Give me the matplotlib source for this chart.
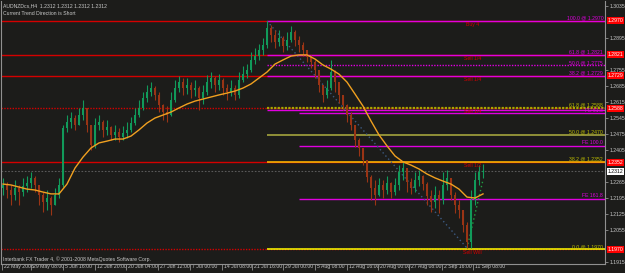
import numpy as np
import matplotlib
matplotlib.use("Agg")
import matplotlib.pyplot as plt
import matplotlib.transforms as mtrans
from matplotlib.transforms import blended_transform_factory

# ---------------- data ----------------
first_open = 1.2240
closes = [1.2252, 1.2230, 1.2208, 1.2239, 1.2221, 1.2248, 1.2261, 1.2283, 1.2252, 1.2208,
          1.2178, 1.2195, 1.2164, 1.2208, 1.2252, 1.2501, 1.2527, 1.2545, 1.2514, 1.2558,
          1.2589, 1.2514, 1.2427, 1.2514, 1.2527, 1.2493, 1.2506, 1.2471, 1.2484, 1.2462,
          1.2479, 1.2493, 1.2523, 1.2558, 1.2589, 1.2632, 1.2659, 1.2676, 1.2646, 1.2602,
          1.2571, 1.2558, 1.2624, 1.2676, 1.2702, 1.2676, 1.2689, 1.2667, 1.2676, 1.2632,
          1.2659, 1.2702, 1.2720, 1.2689, 1.2711, 1.2676, 1.2659, 1.2676, 1.2646, 1.2711,
          1.2737, 1.2755, 1.2799, 1.2816, 1.2842, 1.2864, 1.2939, 1.2908, 1.2878, 1.2895,
          1.2860, 1.2886, 1.2921, 1.2886, 1.2864, 1.2842, 1.2812, 1.2790, 1.2755, 1.2689,
          1.2646, 1.2676, 1.2746, 1.2702, 1.2646, 1.2602, 1.2558, 1.2514, 1.2449, 1.2414,
          1.2361, 1.2287, 1.2239, 1.2208, 1.2252, 1.2230, 1.2261, 1.2221, 1.2252, 1.2309,
          1.2326, 1.2265, 1.2239, 1.2274, 1.2291, 1.2256, 1.2204, 1.2178, 1.2208, 1.2186,
          1.2252, 1.2283, 1.2208, 1.2164, 1.2143, 1.2077, 1.2003, 1.2186, 1.2274, 1.2309,
          1.2313]
highs = [1.2283, 1.2265, 1.2252, 1.2274, 1.2252, 1.2283, 1.2291, 1.2309, 1.2291, 1.2239,
         1.2221, 1.2230, 1.2204, 1.2239, 1.2283, 1.2514, 1.2558, 1.2571, 1.2558, 1.2589,
         1.2624, 1.2580, 1.2514, 1.2545, 1.2558, 1.2536, 1.2536, 1.2510, 1.2514, 1.2501,
         1.2510, 1.2527, 1.2549, 1.2589, 1.2624, 1.2659, 1.2689, 1.2702, 1.2685, 1.2659,
         1.2606, 1.2597, 1.2659, 1.2711, 1.2729, 1.2720, 1.2720, 1.2702, 1.2711, 1.2685,
         1.2689, 1.2733, 1.2746, 1.2729, 1.2737, 1.2720, 1.2694, 1.2711, 1.2689, 1.2746,
         1.2772, 1.2781, 1.2834, 1.2851, 1.2869, 1.2895, 1.2969, 1.2952, 1.2930, 1.2930,
         1.2904, 1.2921, 1.2947, 1.2930, 1.2904, 1.2878, 1.2842, 1.2821, 1.2799, 1.2746,
         1.2689, 1.2711, 1.2799, 1.2755, 1.2685, 1.2646, 1.2606, 1.2571, 1.2510, 1.2458,
         1.2414, 1.2361, 1.2296, 1.2274, 1.2283, 1.2274, 1.2291, 1.2265, 1.2283, 1.2339,
         1.2353, 1.2326, 1.2283, 1.2309, 1.2318, 1.2296, 1.2265, 1.2230, 1.2248, 1.2230,
         1.2309, 1.2318, 1.2283, 1.2221, 1.2186, 1.2143, 1.2090, 1.2230, 1.2309, 1.2339,
         1.2344]
lows = [1.2208, 1.2195, 1.2164, 1.2186, 1.2164, 1.2204, 1.2221, 1.2239, 1.2221, 1.2164,
        1.2134, 1.2143, 1.2121, 1.2164, 1.2195, 1.2243, 1.2484, 1.2501, 1.2493, 1.2514,
        1.2536, 1.2484, 1.2405, 1.2414, 1.2493, 1.2462, 1.2471, 1.2449, 1.2449, 1.2440,
        1.2449, 1.2458, 1.2484, 1.2514, 1.2549, 1.2580, 1.2615, 1.2641, 1.2624, 1.2571,
        1.2536, 1.2527, 1.2554, 1.2615, 1.2659, 1.2646, 1.2650, 1.2632, 1.2641, 1.2580,
        1.2606, 1.2646, 1.2676, 1.2659, 1.2667, 1.2646, 1.2624, 1.2641, 1.2624, 1.2632,
        1.2702, 1.2720, 1.2746, 1.2781, 1.2799, 1.2821, 1.2851, 1.2878, 1.2851, 1.2860,
        1.2834, 1.2842, 1.2878, 1.2860, 1.2834, 1.2816, 1.2790, 1.2764, 1.2720, 1.2659,
        1.2615, 1.2632, 1.2667, 1.2659, 1.2611, 1.2580, 1.2527, 1.2493, 1.2418, 1.2379,
        1.2339, 1.2265, 1.2186, 1.2164, 1.2204, 1.2195, 1.2213, 1.2195, 1.2208, 1.2230,
        1.2274, 1.2221, 1.2213, 1.2221, 1.2248, 1.2230, 1.2164, 1.2134, 1.2151, 1.2129,
        1.2169, 1.2230, 1.2186, 1.2129, 1.2108, 1.2046, 1.1976, 1.1976, 1.2164, 1.2252,
        1.2283]
# moving average, read every second bar
ma_values = [1.2256, 1.2252, 1.2243, 1.2234, 1.2230, 1.2221, 1.2213, 1.2213, 1.2256, 1.2326,
             1.2374, 1.2414, 1.2436, 1.2444, 1.2453, 1.2453, 1.2466, 1.2493, 1.2523, 1.2545,
             1.2558, 1.2571, 1.2589, 1.2606, 1.2619, 1.2628, 1.2637, 1.2646, 1.2654, 1.2663,
             1.2676, 1.2694, 1.2720, 1.2746, 1.2781, 1.2799, 1.2816, 1.2821, 1.2821, 1.2803,
             1.2777, 1.2759, 1.2737, 1.2702, 1.2650, 1.2597, 1.2532, 1.2471, 1.2423, 1.2379,
             1.2353, 1.2339, 1.2322, 1.2300, 1.2283, 1.2269, 1.2256, 1.2234, 1.2199, 1.2195,
             1.2213]

current_price = 1.2312
peak_bar = 66
trough_bar = 116

# magenta retracement (0 -> 1.2580, 100 -> 1.2970)
mag_levels = [1.2970, 1.2821, 1.2775, 1.2729, 1.2580]
mag_labels = ["100.0 @ 1.2970", "61.8 @ 1.2821", "50.0 @ 1.2775", "38.2 @ 1.2729", ""]
mag_styles = ['-', '-', ':', '-', '-']
# yellow retracement (0 -> 1.1970, 100 -> 1.2970)
yel_levels = [1.2588, 1.2470, 1.2352, 1.1970]
yel_labels = ["61.8 @ 1.2588", "50.0 @ 1.2470", "38.2 @ 1.2352", "0.0 @ 1.1970"]
yel_colors = ['#a8a800', '#b0b040', '#ffc000', '#ffff00']
# expansion levels
fe_levels = [1.2567, 1.2423, 1.2191]
fe_labels = ["FE 61.8", "FE 100.0", "FE 161.8"]
fe_start = 74
# red zone lines
red_levels = [1.2970, 1.2821, 1.2729, 1.2588, 1.2352, 1.1970]
red_styles = ['-', '-', '-', ':', '-', ':']
zone_texts = ["Buy 4", "Sell 1/4", "Sell 1/4", "Sell 1/4", "Sell 1/2", "Sell Will"]
box_prices = [1.2970, 1.2821, 1.2729, 1.2588, 1.2352, 1.1970]

price_ticks = [1.1915, 1.2055, 1.2125, 1.2195, 1.2265, 1.2405, 1.2475,
               1.2545, 1.2615, 1.2685, 1.2755, 1.2895, 1.3035]
date_labels = ["22 May 2008", "29 May 08:00", "5 Jun 16:00", "12 Jun 20:00", "20 Jun 04:00",
               "27 Jun 12:00", "7 Jul 00:00", "14 Jul 08:00", "21 Jul 16:00", "29 Jul 00:00",
               "5 Aug 08:00", "12 Aug 16:00", "20 Aug 00:00", "27 Aug 08:00", "2 Sep 16:00",
               "11 Sep 08:00"]
date_bars = [-0.25, 7, 15, 23, 30.75, 38.75, 46.75, 54.75, 62.25, 70, 78, 86, 93.75,
             101.5, 109.75, 117.5]

# ---------------- style ----------------
BG = '#1c1c1a'
BULL = '#119a5a'
BEAR = '#9a3415'
MAG = '#e000e0'
RED = '#d40000'
FG = '#c8c8c8'
FONT = ['Liberation Sans', 'DejaVu Sans']
FS = 3.7

fig = plt.figure(figsize=(6.25, 2.73), dpi=100, facecolor=BG)
ax = fig.add_axes([1 / 625, 9 / 273, 604 / 625, 263 / 273])
ax.set_facecolor(BG)

closes = np.array(closes)
highs = np.array(highs)
lows = np.array(lows)
n = len(closes)
idx = np.arange(n)
opens = np.r_[first_open, closes[:-1]]
up = closes >= opens
cols = np.where(up, BULL, BEAR)

x_lo, x_hi = -0.5, 150.5
y_lo, y_hi = 1.19063, 1.30569
ax.set_xlim(x_lo, x_hi)
ax.set_ylim(y_lo, y_hi)

for lv, ls in zip(red_levels, red_styles):
    ax.hlines(lv, x_lo, x_hi, colors=RED, lw=1.0,
              linestyles='-' if ls == '-' else (0, (1, 1)), zorder=1)

ax.hlines(current_price, x_lo, x_hi, colors='#5a5a5a', lw=0.8, linestyles=(0, (1.5, 1.5)), zorder=1)

for k, (lv, c) in enumerate(zip(yel_levels, yel_colors)):
    if k == 0:
        ax.hlines(lv, peak_bar, x_hi, colors=c, lw=1.6, linestyles=(0, (1, 0.6)), zorder=2)
    else:
        ax.hlines(lv, peak_bar, x_hi, colors=c, lw=1.1, zorder=2)

for lv, ls in zip(mag_levels, mag_styles):
    ax.hlines(lv, peak_bar, x_hi, colors=MAG, lw=1.0,
              linestyles='-' if ls == '-' else (0, (1, 1)), zorder=2)
for lv in fe_levels:
    ax.hlines(lv, fe_start, x_hi, colors=MAG, lw=1.0, zorder=2)

ax.plot([peak_bar, trough_bar], [highs[peak_bar], lows[trough_bar]], color='#3c5a82',
        lw=1.0, ls=(0, (1, 2)), zorder=3)
ax.plot([trough_bar, n - 1], [lows[trough_bar], closes[n - 3]], color='#20a040',
        lw=1.0, ls=(0, (1, 2)), zorder=3)

ax.vlines(idx, lows, highs, colors=cols, lw=0.8, zorder=4)
body = np.maximum(np.abs(closes - opens), 0.0002)
ax.bar(idx, body, bottom=np.minimum(opens, closes), width=0.55, color=cols, lw=0, zorder=4)

ax.plot(idx[::2], ma_values, color='#f0a020', lw=1.0, zorder=5)

tr_lab = blended_transform_factory(ax.transAxes, ax.transData)
for lv, lab in zip(mag_levels, mag_labels):
    if lab:
        ax.text(0.997, lv + 0.0002, lab, transform=tr_lab, ha='right', va='bottom',
                color=MAG, fontsize=FS, family=FONT, zorder=6)
for lv, lab in zip(yel_levels, yel_labels):
    ax.text(0.997, lv + 0.0002, lab, transform=tr_lab, ha='right', va='bottom',
            color='#c0c000', fontsize=FS, family=FONT, zorder=6)
for lv, lab in zip(fe_levels, fe_labels):
    ax.text(0.997, lv + 0.0002, lab, transform=tr_lab, ha='right', va='bottom',
            color=MAG, fontsize=FS, family=FONT, zorder=6)
for lv, lab in zip(red_levels, zone_texts):
    ax.text(117.3, lv - 0.0003, lab, ha='center', va='top', color=RED,
            fontsize=FS, family=FONT, zorder=6)

ax.spines['top'].set_visible(False)
for s in ['right', 'bottom', 'left']:
    ax.spines[s].set_color('#909090')
    ax.spines[s].set_linewidth(0.8)
ax.yaxis.tick_right()
ax.set_yticks(price_ticks)
ax.set_yticklabels([f"{t:.4f}" for t in price_ticks], fontsize=FS, family=FONT, color=FG)
ax.tick_params(axis='y', direction='out', length=2.5, width=0.6, color='#909090', pad=1.2)
ax.set_xticks(date_bars)
ax.set_xticklabels(date_labels, fontsize=FS, family=FONT, color=FG, ha='left')
ax.tick_params(axis='x', direction='out', length=4, width=0.6, color='#909090', pad=-4.2)
offset = mtrans.ScaledTranslation(2 / 100, 0, fig.dpi_scale_trans)
for lbl in ax.get_xticklabels():
    lbl.set_transform(lbl.get_transform() + offset)

tr_box = blended_transform_factory(ax.transAxes, ax.transData)
for p in box_prices:
    ax.text(1.0045, p, f"{p:.4f}", transform=tr_box, ha='left', va='center', color='white',
            fontsize=FS, family=FONT, clip_on=False, zorder=10,
            bbox=dict(boxstyle='square,pad=0.2', fc='#ff0000', ec='none'))
ax.text(1.0045, current_price, f"{current_price:.4f}", transform=tr_box, ha='left', va='center',
        color='black', fontsize=FS, family=FONT, clip_on=False, zorder=10,
        bbox=dict(boxstyle='square,pad=0.2', fc='white', ec='none'))

ax.text(0.004, 0.992, f"AUDNZDcs,H4  {current_price:.4f} {current_price:.4f} {current_price:.4f} {current_price:.4f}",
        transform=ax.transAxes, ha='left', va='top', color=FG, fontsize=FS, family=FONT)
ax.text(0.004, 0.962, "Current Trend Direction is Short", transform=ax.transAxes, ha='left',
        va='top', color=FG, fontsize=FS, family=FONT)
ax.text(0.004, 0.008, "Interbank FX Trader 4, © 2001-2008 MetaQuotes Software Corp.",
        transform=ax.transAxes, ha='left', va='bottom', color=FG, fontsize=FS, family=FONT)

fig.savefig("out.png", dpi=100, facecolor=BG)
